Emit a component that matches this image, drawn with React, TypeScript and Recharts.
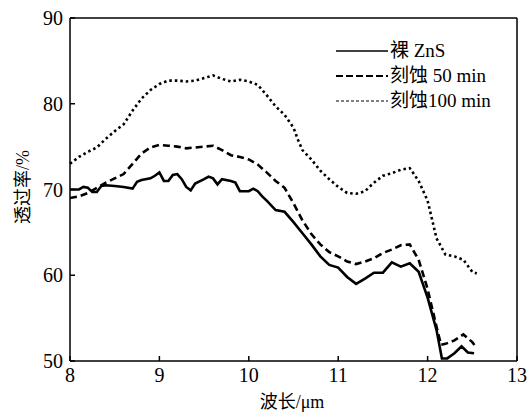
import { LineChart, Line, XAxis, YAxis, Legend, ReferenceLine } from 'recharts'

// 裸 ZnS
const bareWave = [8.0, 8.1, 8.15, 8.2, 8.25, 8.3, 8.35, 8.4, 8.5, 8.6, 8.7, 8.75, 8.8, 8.9, 8.95, 9.0, 9.05, 9.1, 9.15, 9.2, 9.25, 9.3, 9.35, 9.4, 9.5, 9.55, 9.6, 9.65, 9.7, 9.8, 9.85, 9.9, 10.0, 10.05, 10.1, 10.15, 10.2, 10.3, 10.4, 10.5, 10.6, 10.7, 10.8, 10.9, 11.0, 11.1, 11.2, 11.3, 11.4, 11.5, 11.6, 11.7, 11.8, 11.9, 12.0, 12.1, 12.16, 12.22, 12.3, 12.38, 12.45, 12.52]
const bareT = [70.0, 70.0, 70.3, 70.2, 69.7, 69.7, 70.4, 70.5, 70.4, 70.3, 70.1, 70.9, 71.1, 71.3, 71.6, 72.0, 71.0, 71.0, 71.7, 71.8, 71.2, 70.3, 69.9, 70.7, 71.2, 71.5, 71.3, 70.6, 71.2, 71.0, 70.8, 69.8, 69.8, 70.1, 69.8, 69.2, 68.7, 67.6, 67.4, 66.2, 64.9, 63.6, 62.2, 61.2, 60.9, 59.8, 59.0, 59.6, 60.3, 60.3, 61.5, 61.0, 61.4, 60.4, 57.4, 53.6, 50.3, 50.3, 50.9, 51.7, 51.0, 50.9]

// 刻蚀 50 min
const etch50Wave = [8.0, 8.1, 8.2, 8.3, 8.4, 8.5, 8.6, 8.7, 8.8, 8.9, 9.0, 9.1, 9.2, 9.3, 9.4, 9.5, 9.6, 9.7, 9.8, 9.9, 10.0, 10.1, 10.2, 10.3, 10.4, 10.5, 10.6, 10.7, 10.8, 10.9, 11.0, 11.1, 11.2, 11.3, 11.4, 11.5, 11.6, 11.7, 11.8, 11.9, 12.0, 12.1, 12.15, 12.2, 12.3, 12.4, 12.5, 12.55]
const etch50T = [69.0, 69.2, 69.6, 70.2, 70.8, 71.3, 71.8, 73.0, 74.2, 74.9, 75.2, 75.1, 75.0, 74.8, 74.9, 75.0, 75.1, 74.6, 74.0, 73.8, 73.5, 72.9, 72.0, 71.0, 70.2, 68.4, 66.4, 64.8, 63.6, 62.7, 62.2, 61.6, 61.3, 61.6, 62.0, 62.6, 63.0, 63.5, 63.6, 61.8, 58.4, 54.0, 51.9, 52.0, 52.4, 53.1, 52.2, 51.5]

// 刻蚀100 min
const etch100Wave = [8.0, 8.1, 8.2, 8.3, 8.4, 8.5, 8.6, 8.7, 8.8, 8.9, 9.0, 9.1, 9.2, 9.3, 9.4, 9.5, 9.6, 9.7, 9.8, 9.9, 10.0, 10.1, 10.2, 10.3, 10.4, 10.5, 10.55, 10.6, 10.7, 10.8, 10.9, 11.0, 11.1, 11.2, 11.3, 11.4, 11.5, 11.6, 11.7, 11.8, 11.9, 12.0, 12.1, 12.2, 12.3, 12.4, 12.5, 12.55]
const etch100T = [73.0, 73.8, 74.4, 74.9, 75.9, 76.8, 77.6, 79.2, 80.6, 81.6, 82.3, 82.7, 82.7, 82.6, 82.7, 83.0, 83.3, 82.9, 82.6, 82.8, 82.6, 82.2, 81.0, 79.7, 78.7, 77.2, 75.8, 74.6, 73.5, 72.2, 71.2, 70.3, 69.6, 69.5, 69.8, 70.8, 71.6, 71.9, 72.3, 72.5, 71.0, 68.7, 64.3, 62.4, 62.2, 61.8, 60.4, 60.2]

const xTicks = [8, 9, 10, 11, 12, 13]
const yTicks = [50, 60, 70, 80, 90]

const toRows = (xs: number[], ys: number[]) => xs.map((x, i) => ({ x, y: ys[i] }))

const FONT = "'Liberation Serif', 'Noto Sans CJK SC', serif"

const series = [
  { name: '裸 ZnS', data: toRows(bareWave, bareT), dash: undefined, legendDash: undefined, legendWidth: 1.5 },
  { name: '刻蚀 50 min', data: toRows(etch50Wave, etch50T), dash: '7 4', legendDash: '7 3', legendWidth: 2.2 },
  { name: '刻蚀100 min', data: toRows(etch100Wave, etch100T), dash: '2.5 3', legendDash: '3 2', legendWidth: 1.2 },
]

function XTick({ x, y, payload }: any) {
  return (
    <g>
      <line x1={x} x2={x} y1={y} y2={y - 5} stroke="#000" strokeWidth={1.5} />
      <text x={x} y={y + 21} textAnchor="middle" style={{ fontFamily: FONT, fontSize: 20 }} fill="#000">
        {payload.value}
      </text>
    </g>
  )
}

function YTick({ x, y, payload }: any) {
  return (
    <g>
      <line x1={x} x2={x + 5} y1={y} y2={y} stroke="#000" strokeWidth={1.5} />
      <text x={x - 7} y={y + 7} textAnchor="end" style={{ fontFamily: FONT, fontSize: 20 }} fill="#000">
        {payload.value}
      </text>
    </g>
  )
}

function LegendBox() {
  return (
    <div style={{ fontFamily: FONT, fontSize: 19, color: '#000' }}>
      {series.map((s) => (
        <div key={s.name} style={{ display: 'flex', alignItems: 'center', height: 25 }}>
          <svg width={52} height={10} style={{ display: 'block' }}>
            <line x1={0} x2={52} y1={5} y2={5} stroke="#000" strokeWidth={s.legendWidth} strokeDasharray={s.legendDash} />
          </svg>
          <span style={{ marginLeft: 2, whiteSpace: 'nowrap', lineHeight: '25px' }}>{s.name}</span>
        </div>
      ))}
    </div>
  )
}

export default function App() {
  return (
    <div style={{ position: 'absolute', left: 0, top: 0, width: 528, height: 412, background: '#fff' }}>
      <LineChart width={528} height={412} margin={{ top: 18, right: 11, bottom: 21, left: 0 }}>
        <XAxis
          dataKey="x"
          type="number"
          domain={[8, 13]}
          ticks={xTicks}
          allowDuplicatedCategory={false}
          axisLine={{ stroke: '#000', strokeWidth: 1.5 }}
          tickLine={false}
          tickSize={0}
          tickMargin={0}
          tick={<XTick />}
          height={30}
        />
        <YAxis
          type="number"
          domain={[50, 90]}
          ticks={yTicks}
          axisLine={{ stroke: '#000', strokeWidth: 1.5 }}
          tickLine={false}
          tickSize={0}
          tickMargin={0}
          tick={<YTick />}
          width={70}
        />
        <ReferenceLine y={90} stroke="#000" strokeWidth={1.5} />
        <ReferenceLine x={13} stroke="#000" strokeWidth={1.5} />
        {series.map((s) => (
          <Line
            key={s.name}
            data={s.data}
            dataKey="y"
            name={s.name}
            type="linear"
            stroke="#000"
            strokeWidth={2.6}
            strokeDasharray={s.dash}
            dot={false}
            activeDot={false}
            isAnimationActive={false}
          />
        ))}
        <Legend
          layout="vertical"
          align="center"
          verticalAlign="middle"
          content={<LegendBox />}
          wrapperStyle={{ position: 'absolute', left: 336, top: 38, width: 'auto', height: 'auto' }}
        />
      </LineChart>
      <div
        style={{
          position: 'absolute',
          left: 21,
          top: 187,
          transform: 'translate(-50%, -50%) rotate(-90deg)',
          fontFamily: FONT,
          fontSize: 18,
          whiteSpace: 'nowrap',
          color: '#000',
        }}
      >
        透过率/%
      </div>
      <div
        style={{
          position: 'absolute',
          left: 292,
          top: 400,
          transform: 'translate(-50%, -50%)',
          fontFamily: FONT,
          fontSize: 18,
          whiteSpace: 'nowrap',
          color: '#000',
        }}
      >
        波长/μm
      </div>
    </div>
  )
}
